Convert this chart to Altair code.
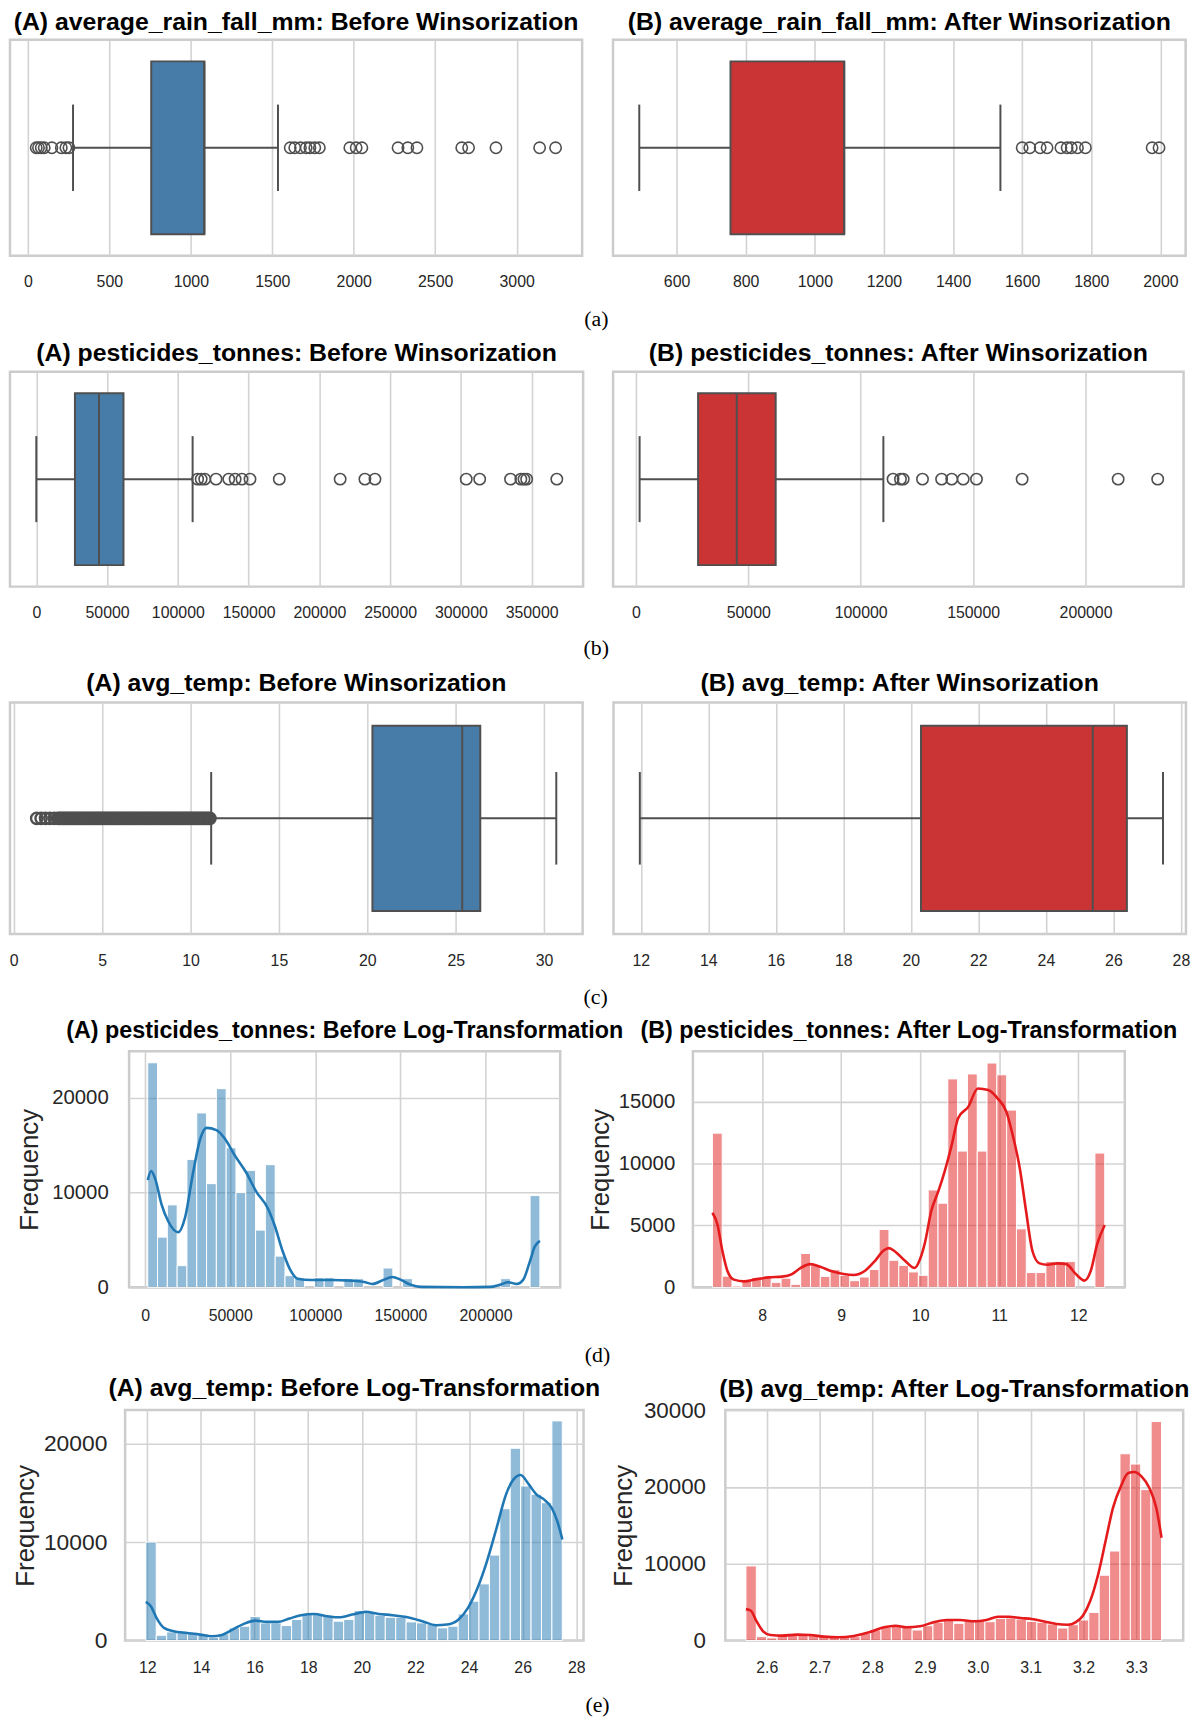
import altair as alt
import pandas as pd

FONT = "Liberation Sans"
SERIF = "Liberation Serif"
TEXT = "#262626"
GRID = "#d3d3d3"
FRAME = "#cccccc"
EDGE = "#4f4f4f"
BLUE_BOX = "#477ca8"
RED_BOX = "#ca3435"
BLUE = "#1f77b4"
RED = "#e41a1c"

BOX_HALF = 0.4
CAP_HALF = 0.2

# ---------------- (a) average_rain_fall_mm ----------------
# stats: whisker low, Q1, median, Q3, whisker high
RAIN_BEFORE_STATS = [277, 757, 1083, 1083, 1535]
RAIN_BEFORE_OUTLIERS = [51, 65, 82, 100, 147, 205, 233, 252,
                        1610, 1638, 1673, 1708, 1731, 1761, 1789,
                        1976, 2015, 2050, 2272, 2332, 2388, 2663, 2705,
                        2873, 3141, 3239]
RAIN_BEFORE_TICKS = [0, 500, 1000, 1500, 2000, 2500, 3000]
RAIN_BEFORE_DOMAIN = [-110, 3402]

RAIN_AFTER_STATS = [492, 756, 1085, 1085, 1537]
RAIN_AFTER_OUTLIERS = [1600, 1622, 1652, 1672, 1712, 1730, 1742, 1760,
                       1783, 1976, 1996]
RAIN_AFTER_TICKS = [600, 800, 1000, 1200, 1400, 1600, 1800, 2000]
RAIN_AFTER_DOMAIN = [416, 2073]

# ---------------- (b) pesticides_tonnes ----------------
PEST_BEFORE_STATS = [0, 27300, 44300, 61600, 110450]
PEST_BEFORE_OUTLIERS = [114000, 116500, 119000, 127000, 136000, 140500,
                        145300, 151000, 171700, 214700, 232200, 239300,
                        303800, 313300, 335100, 342400, 344600, 346500,
                        367800]
PEST_BEFORE_TICKS = [0, 50000, 100000, 150000, 200000, 250000, 300000, 350000]
PEST_BEFORE_DOMAIN = [-18600, 386400]

PEST_AFTER_STATS = [1690, 27700, 44900, 62200, 110100]
PEST_AFTER_OUTLIERS = [114400, 117700, 118900, 127500, 136000, 140500,
                       145600, 151500, 171800, 214500, 232100]
PEST_AFTER_TICKS = [0, 50000, 100000, 150000, 200000]
PEST_AFTER_DOMAIN = [-10100, 243600]

# ---------------- (c) avg_temp ----------------
TEMP_BEFORE_STATS = [11.17, 20.29, 25.37, 26.39, 30.69]
TEMP_BEFORE_OUTLIERS = [1.3, 1.55, 1.8, 2.05, 2.3,
                        2.5, 2.6, 2.7, 2.8, 2.9, 3.0, 3.1, 3.2, 3.3, 3.4,
                        3.5, 3.6, 3.7, 3.8, 3.9, 4.0, 4.1, 4.2, 4.3, 4.4,
                        4.5, 4.6, 4.7, 4.8, 4.9, 5.0, 5.1, 5.2, 5.3, 5.4,
                        5.5, 5.6, 5.7, 5.8, 5.9, 6.0, 6.1, 6.2, 6.3, 6.4,
                        6.5, 6.6, 6.7, 6.8, 6.9, 7.0, 7.1, 7.2, 7.3, 7.4,
                        7.5, 7.6, 7.7, 7.8, 7.9, 8.0, 8.1, 8.2, 8.3, 8.4,
                        8.5, 8.6, 8.7, 8.8, 8.9, 9.0, 9.1, 9.2, 9.3, 9.4,
                        9.5, 9.6, 9.7, 9.8, 9.9, 10.0, 10.1, 10.2, 10.3,
                        10.4, 10.5, 10.6, 10.7, 10.8, 10.9, 11.0, 11.1]
TEMP_BEFORE_TICKS = [0, 5, 10, 15, 20, 25, 30]
TEMP_BEFORE_DOMAIN = [-0.21, 32.18]

TEMP_AFTER_STATS = [11.97, 20.30, 25.39, 26.40, 27.47]
TEMP_AFTER_OUTLIERS = []
TEMP_AFTER_TICKS = [12, 14, 16, 18, 20, 22, 24, 26, 28]
TEMP_AFTER_DOMAIN = [11.19, 28.15]

# ---------------- (d) pesticides_tonnes histograms ----------------
PEST_HIST_RANGE = [1560, 231970]
PEST_HIST_COUNTS = [23680, 5290, 8690, 2280, 13490, 18390, 10930, 20950,
                    14710, 9980, 12330, 6030, 12930, 3290, 1230, 980, 0,
                    1020, 1020, 0, 910, 910, 0, 0, 2030, 0, 910, 0, 0, 0,
                    0, 0, 0, 0, 0, 0, 910, 0, 0, 9670]
PEST_KDE_X = [1600, 3500, 5850, 9750, 13650, 19500, 23400, 28300, 32200,
              36100, 41900, 46800, 52600, 59500, 65300, 72100, 76000, 80900,
              85800, 89700, 97500, 109200, 120900, 128700, 133500, 140400,
              145200, 150100, 155900, 161800, 187100, 202700, 208600, 213500,
              218300, 222200, 226100, 229000, 232000]
PEST_KDE_Y = [11300, 12260, 11490, 8690, 6940, 5810, 7290, 12190, 15520,
              16810, 16570, 15690, 13940, 12080, 10090, 8340, 6590, 3780,
              1680, 910, 770, 770, 700, 560, 350, 810, 1090, 810, 280, 40,
              0, 40, 280, 530, 350, 810, 2730, 4310, 4900]
PEST_HIST_XTICKS = [0, 50000, 100000, 150000, 200000]
PEST_HIST_YTICKS = [0, 10000, 20000]
PEST_HIST_XDOMAIN = [-9400, 243900]
PEST_HIST_YDOMAIN = [0, 24890]

PEST_LOG_RANGE = [7.370, 12.336]
PEST_LOG_COUNTS = [12450, 900, 100, 520, 800, 880, 400, 740, 240, 2730, 1750,
                   880, 1420, 960, 535, 830, 1440, 4670, 2180, 1770, 1240,
                   970, 7860, 6790, 16830, 11000, 17230, 11000, 18110, 17160,
                   14310, 4720, 1190, 1190, 2090, 2090, 2090, 0, 0, 10840]
PEST_LOG_KDE_X = [7.370, 7.433, 7.496, 7.559, 7.643, 7.769, 7.916, 8.084,
                  8.252, 8.378, 8.483, 8.609, 8.735, 8.882, 9.029, 9.155,
                  9.303, 9.429, 9.534, 9.605, 9.681, 9.807, 9.930, 10.00,
                  10.06, 10.14, 10.23, 10.31, 10.40, 10.48, 10.61, 10.73,
                  10.86, 10.98, 11.09, 11.17, 11.26, 11.34, 11.42, 11.51,
                  11.61, 11.74, 11.85, 11.97, 12.08, 12.16, 12.24, 12.336]
PEST_LOG_KDE_Y = [6020, 5090, 2950, 1340, 620, 480, 640, 800, 860, 1070,
                  1550, 1870, 1660, 1290, 1070, 990, 1340, 2140, 2950, 3160,
                  2890, 2140, 1560, 2300, 3600, 6160, 7760, 9370, 11510,
                  13660, 14590, 16060, 15930, 15260, 14190, 12320, 9640,
                  6160, 2950, 1930, 1820, 1930, 1870, 1070, 540, 1340, 3480,
                  5030]
PEST_LOG_XTICKS = [8, 9, 10, 11, 12]
PEST_LOG_YTICKS = [0, 5000, 10000, 15000]
PEST_LOG_XDOMAIN = [7.123, 12.59]
PEST_LOG_YDOMAIN = [0, 19060]

# ---------------- (e) avg_temp histograms ----------------
TEMP_HIST_RANGE = [11.943, 27.478]
TEMP_HIST_COUNTS = [10000, 540, 880, 950, 780, 680, 340, 680, 1290, 1460,
                    2440, 1800, 1800, 1530, 2140, 2640, 2640, 2480, 1970, 2140,
                    3050, 2810, 2580, 2370, 2370, 1900, 1800, 1630, 1290, 1460,
                    2710, 4000, 5760, 8680, 13390, 19530, 15700, 14850, 14000,
                    22310]
TEMP_KDE_X = [11.94, 12.13, 12.34, 12.62, 12.98, 13.47, 13.97, 14.40, 14.75,
              15.18, 15.60, 16.03, 16.45, 16.88, 17.30, 17.73, 18.22, 18.72,
              19.14, 19.64, 20.14, 20.63, 21.13, 21.70, 22.26, 22.76, 23.18,
              23.61, 23.96, 24.32, 24.67, 25.03, 25.38, 25.66, 25.92, 26.23,
              26.51, 26.79, 27.08, 27.29, 27.48]
TEMP_KDE_Y = [3930, 3490, 2310, 1290, 950, 780, 610, 440, 540, 1120, 1700,
              2030, 1900, 1900, 2240, 2580, 2710, 2480, 2370, 2640, 2920, 2710,
              2580, 2370, 1970, 1560, 1630, 2140, 3320, 5360, 8070, 11460,
              14850, 16370, 16810, 15860, 14850, 14340, 13490, 12140, 10270]
TEMP_HIST_XTICKS = [12, 14, 16, 18, 20, 22, 24, 26, 28]
TEMP_HIST_YTICKS = [0, 10000, 20000]
TEMP_HIST_XDOMAIN = [11.17, 28.27]
TEMP_HIST_YDOMAIN = [0, 23420]

TEMP_LOG_RANGE = [2.5605, 3.348]
TEMP_LOG_COUNTS = [9720, 520, 350, 650, 860, 860, 780, 650, 430, 430, 520,
                   950, 1380, 1730, 1940, 1810, 1380, 1940, 2380, 2680, 2250,
                   2590, 2590, 2460, 2890, 2940, 2810, 2510, 2380, 2160, 1640,
                   2070, 2680, 3670, 8510, 11660, 24320, 22980, 19650, 28510]
TEMP_LOG_KDE_X = [2.5605, 2.570, 2.580, 2.593, 2.607, 2.629, 2.657, 2.682,
                  2.708, 2.736, 2.765, 2.794, 2.822, 2.844, 2.865, 2.890,
                  2.916, 2.941, 2.966, 2.995, 3.016, 3.038, 3.059, 3.081,
                  3.102, 3.124, 3.149, 3.170, 3.185, 3.199, 3.213, 3.228,
                  3.242, 3.256, 3.271, 3.285, 3.296, 3.310, 3.325, 3.338,
                  3.348]
TEMP_LOG_KDE_Y = [4100, 3890, 2590, 1210, 730, 650, 780, 730, 520, 430, 610,
                  1080, 1730, 1940, 1730, 1860, 2380, 2680, 2680, 2510, 2680,
                  3110, 3110, 2940, 2810, 2510, 2160, 2070, 2380, 3240, 5180,
                  8640, 12960, 17280, 20090, 21810, 21940, 21380, 19870,
                  17280, 13390]
TEMP_LOG_XTICKS = [2.6, 2.7, 2.8, 2.9, 3.0, 3.1, 3.2, 3.3]
TEMP_LOG_YTICKS = [0, 10000, 20000, 30000]
TEMP_LOG_XDOMAIN = [2.5215, 3.389]
TEMP_LOG_YDOMAIN = [0, 30020]


def x_axis(ticks, fmt, pad):
    return alt.Axis(values=ticks, format=fmt, title=None, grid=True,
                    ticks=False, domain=False, labelPadding=pad,
                    labelFontSize=16, labelColor=TEXT, labelFont=FONT,
                    labelFlush=False, labelOverlap=False)


def panel_title(text, size, offset):
    return alt.TitleParams(text=text, fontSize=size, fontWeight="bold",
                           font=FONT, color="black", anchor="middle",
                           frame="group", baseline="alphabetic", offset=offset)


def box_panel(stats, outliers, fill, domain, ticks, title, w, h, toff, lpad,
              out_stroke=1.6):
    lo, q1, med, q3, hi = stats
    xs = alt.Scale(domain=domain, nice=False, zero=False)
    ys = alt.Scale(domain=[-0.5, 0.5])
    ax = x_axis(ticks, "d", lpad)

    def X(f):
        return alt.X(f, type="quantitative", scale=xs, axis=ax)

    def Y(f):
        return alt.Y(f, type="quantitative", scale=ys, axis=None)

    whisk = alt.Chart(pd.DataFrame({"a": [lo, q3], "b": [q1, hi], "y": [0, 0]})).mark_rule(
        color=EDGE, strokeWidth=2).encode(x=X("a"), x2="b", y=Y("y"))
    caps = alt.Chart(pd.DataFrame({"a": [lo, hi], "y": [-CAP_HALF, -CAP_HALF],
                                   "y2": [CAP_HALF, CAP_HALF]})).mark_rule(
        color=EDGE, strokeWidth=2).encode(x=X("a"), y=Y("y"), y2="y2")
    box = alt.Chart(pd.DataFrame({"a": [q1], "b": [q3], "y": [-BOX_HALF],
                                  "y2": [BOX_HALF]})).mark_rect(
        fill=fill, stroke=EDGE, strokeWidth=2).encode(x=X("a"), x2="b", y=Y("y"), y2="y2")
    medl = alt.Chart(pd.DataFrame({"a": [med], "y": [-BOX_HALF], "y2": [BOX_HALF]})).mark_rule(
        color=EDGE, strokeWidth=2).encode(x=X("a"), y=Y("y"), y2="y2")
    layers = [whisk, caps, box, medl]
    if outliers:
        pts = alt.Chart(pd.DataFrame({"a": outliers, "y": [0] * len(outliers)})).mark_point(
            shape="circle", filled=False, size=130, color=EDGE,
            strokeWidth=out_stroke, opacity=1).encode(x=X("a"), y=Y("y"))
        layers.append(pts)
    return alt.layer(*layers).properties(width=w, height=h,
                                         title=panel_title(title, 25, toff))


def hist_panel(rng, counts, kx, ky, color, lcolor, xdom, xticks, xfmt, ydom,
               yticks, title, tsize, w, h, toff, lpad, ylab, ypad, ytpad):
    lo, hi = rng
    n = len(counts)
    step = (hi - lo) / n
    a, b, c = [], [], []
    for i, cnt in enumerate(counts):
        if cnt > 0:
            a.append(lo + i * step)
            b.append(lo + (i + 1) * step)
            c.append(cnt)
    xs = alt.Scale(domain=xdom, nice=False, zero=False)
    ys = alt.Scale(domain=ydom, nice=False, zero=False)
    ax = x_axis(xticks, xfmt, lpad)
    ay = alt.Axis(values=yticks, format="d", title="Frequency", grid=True,
                  ticks=False, domain=False, labelPadding=ypad,
                  labelFontSize=ylab, titleFontSize=26,
                  titleFontWeight="normal", titlePadding=ytpad,
                  labelColor=TEXT, titleColor=TEXT, labelFont=FONT,
                  titleFont=FONT, labelFlush=False, labelOverlap=False)
    bars = alt.Chart(pd.DataFrame({"a": a, "b": b, "c": c})).mark_rect(
        fill=color, fillOpacity=0.5, stroke="white", strokeWidth=1).encode(
        x=alt.X("a:Q", scale=xs, axis=ax), x2="b",
        y=alt.Y("c:Q", scale=ys, axis=ay), y2=alt.datum(0))
    kde = alt.Chart(pd.DataFrame({"x": kx, "y": ky})).mark_line(
        color=lcolor, strokeWidth=2.6, interpolate="monotone").encode(
        x=alt.X("x:Q", scale=xs, axis=ax), y=alt.Y("y:Q", scale=ys, axis=ay))
    return alt.layer(bars, kde).properties(width=w, height=h,
                                           title=panel_title(title, tsize, toff))


def spacer():
    return alt.Chart(pd.DataFrame({"v": [0]})).mark_point(
        size=0, opacity=0, strokeWidth=0).encode(
        x=alt.value(0), y=alt.value(0)).properties(
        width=1, height=1,
        view=alt.ViewBackground(stroke="transparent", strokeWidth=0))


def caption(text, off):
    return alt.TitleParams(text=text, orient="bottom", anchor="start",
                           align="center", dx=592, offset=off,
                           baseline="top", font=SERIF, fontSize=22,
                           fontWeight="normal", color="black")


def row(left, right, spacing, cap, cap_off):
    return alt.hconcat(left, right, spacing=spacing).properties(
        title=caption(cap, cap_off))


def hist_row(left, right, lead, spacing, cap, cap_off):
    inner = alt.hconcat(spacer(), left, spacing=lead - 1)
    return alt.hconcat(inner, right, spacing=spacing).properties(
        title=caption(cap, cap_off))


rowA = row(
    box_panel(RAIN_BEFORE_STATS, RAIN_BEFORE_OUTLIERS, BLUE_BOX, RAIN_BEFORE_DOMAIN,
              RAIN_BEFORE_TICKS, "(A) average_rain_fall_mm: Before Winsorization",
              576.5, 217.7, -14.9, 18.3),
    box_panel(RAIN_AFTER_STATS, RAIN_AFTER_OUTLIERS, RED_BOX, RAIN_AFTER_DOMAIN,
              RAIN_AFTER_TICKS, "(B) average_rain_fall_mm: After Winsorization",
              577, 217.7, -14.9, 18.3),
    27.6, "(a)", 18.6)

rowB = row(
    box_panel(PEST_BEFORE_STATS, PEST_BEFORE_OUTLIERS, BLUE_BOX, PEST_BEFORE_DOMAIN,
              PEST_BEFORE_TICKS, "(A) pesticides_tonnes: Before Winsorization",
              577.5, 216.6, -14.5, 18.6),
    box_panel(PEST_AFTER_STATS, PEST_AFTER_OUTLIERS, RED_BOX, PEST_AFTER_DOMAIN,
              PEST_AFTER_TICKS, "(B) pesticides_tonnes: After Winsorization",
              574.8, 216.6, -14.5, 18.6),
    26.7, "(b)", 16.4)

rowC = row(
    box_panel(TEMP_BEFORE_STATS, TEMP_BEFORE_OUTLIERS, BLUE_BOX, TEMP_BEFORE_DOMAIN,
              TEMP_BEFORE_TICKS, "(A) avg_temp: Before Winsorization",
              577, 233.3, -12.9, 19.1, out_stroke=2.4),
    box_panel(TEMP_AFTER_STATS, TEMP_AFTER_OUTLIERS, RED_BOX, TEMP_AFTER_DOMAIN,
              TEMP_AFTER_TICKS, "(B) avg_temp: After Winsorization",
              576.8, 233.3, -12.9, 19.1),
    27.1, "(c)", 17.3)

rowD = hist_row(
    hist_panel(PEST_HIST_RANGE, PEST_HIST_COUNTS, PEST_KDE_X, PEST_KDE_Y, BLUE, BLUE,
               PEST_HIST_XDOMAIN, PEST_HIST_XTICKS, "d", PEST_HIST_YDOMAIN,
               PEST_HIST_YTICKS, "(A) pesticides_tonnes: Before Log-Transformation",
               23.5, 434.4, 237.8, -10.4, 20.8, 20.5, 21, 9.3),
    hist_panel(PEST_LOG_RANGE, PEST_LOG_COUNTS, PEST_LOG_KDE_X, PEST_LOG_KDE_Y, RED, RED,
               PEST_LOG_XDOMAIN, PEST_LOG_XTICKS, "d", PEST_LOG_YDOMAIN,
               PEST_LOG_YTICKS, "(B) pesticides_tonnes: After Log-Transformation",
               23.5, 435.2, 237.8, -10.4, 20.8, 20.5, 18.3, 4.7),
    5, -39.9, "(d)", 19.9)

rowE = hist_row(
    hist_panel(TEMP_HIST_RANGE, TEMP_HIST_COUNTS, TEMP_KDE_X, TEMP_KDE_Y, BLUE, BLUE,
               TEMP_HIST_XDOMAIN, TEMP_HIST_XTICKS, "d", TEMP_HIST_YDOMAIN,
               TEMP_HIST_YTICKS, "(A) avg_temp: Before Log-Transformation",
               25, 461.9, 232.4, -11.3, 18.9, 23, 18.4, 5.4),
    hist_panel(TEMP_LOG_RANGE, TEMP_LOG_COUNTS, TEMP_LOG_KDE_X, TEMP_LOG_KDE_Y, RED, RED,
               TEMP_LOG_XDOMAIN, TEMP_LOG_XTICKS, ".1f", TEMP_LOG_YDOMAIN,
               TEMP_LOG_YTICKS, "(B) avg_temp: After Log-Transformation",
               25, 461.3, 232.4, -22.3, 18.9, 22.5, 20, 6.6),
    0, 6.8, "(e)", 18.3)

chart = alt.vconcat(rowA, rowB, rowC, rowD, rowE, spacing=9.4).properties(
    padding={"left": 0, "top": -6.5, "right": 0, "bottom": 0}
).configure(font=FONT).configure_view(
    stroke=FRAME, strokeWidth=2.5
).configure_axis(gridColor=GRID, gridWidth=1.6)

chart.save("out.html", embed_options={"renderer": "svg", "actions": False})
